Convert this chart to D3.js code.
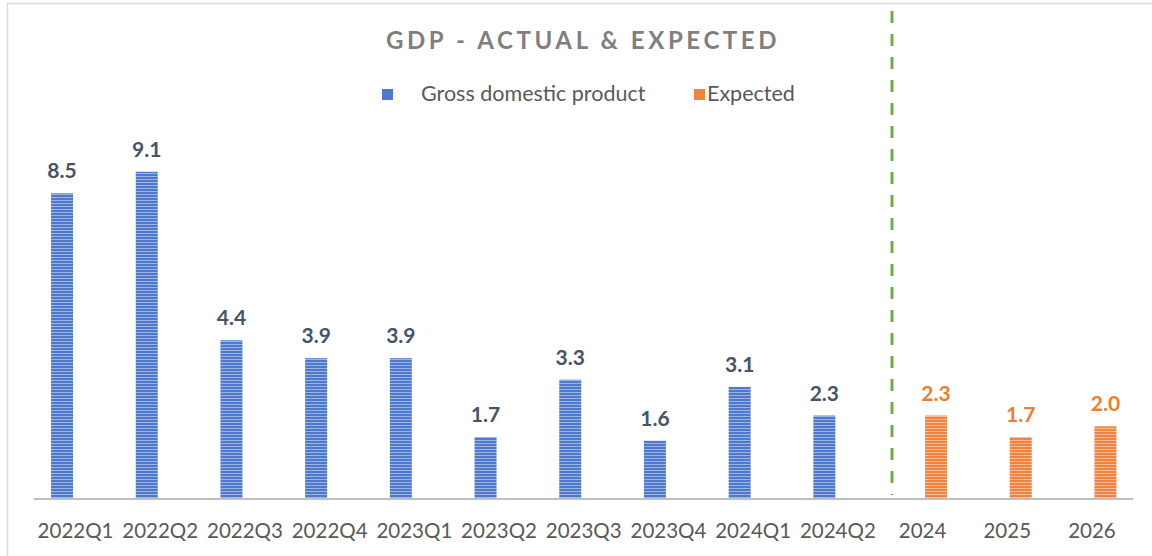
<!DOCTYPE html>
<html>
<head>
  <meta charset="utf-8">
  <title>GDP - Actual & Expected</title>
  <script src="https://d3js.org/d3.v7.min.js"></script>
  <style type="text/css">
    body { margin: 0; background: #fff; }
    text { font-family: Lato, "Open Sans", sans-serif; }
  </style>
</head>
<body>
  <svg width="1152" height="556"></svg>
  <script type="text/javascript">
    // actual quarterly values
    var actualCats = ["2022Q1", "2022Q2", "2022Q3", "2022Q4", "2023Q1", "2023Q2",
      "2023Q3", "2023Q4", "2024Q1", "2024Q2"];
    var actualVals = [8.5, 9.1, 4.4, 3.9, 3.9, 1.7, 3.3, 1.6, 3.1, 2.3];

    // expected yearly values
    var expectedCats = ["2024", "2025", "2026"];
    var expectedVals = [2.3, 1.7, 2.0];

    var titleText = "GDP - ACTUAL & EXPECTED";
    var seriesNames = ["Gross domestic product", "Expected"];

    var orange = "#ed7d31",
      baseY = 498;

    var svg = d3.select("svg");

    // striped fills like the original
    var defs = svg.append("defs");
    function stripes(id, dark, light) {
      var p = defs.append("pattern")
        .attr("id", id)
        .attr("patternUnits", "userSpaceOnUse")
        .attr("width", 6).attr("height", 3);
      p.append("rect").attr("width", 6).attr("height", 3).attr("fill", dark);
      p.append("rect").attr("y", 2).attr("width", 6).attr("height", 1).attr("fill", light);
    }
    stripes("blueStripe", "#4f7acb", "#9cb4e3");
    stripes("orangeStripe", "#ef8441", "#f7bb95");

    // frame
    svg.append("line").attr("x1", 7).attr("x2", 1152).attr("y1", 3.5).attr("y2", 3.5)
      .attr("stroke", "#d9d9d9").attr("stroke-width", 1.5);
    svg.append("line").attr("x1", 7.5).attr("x2", 7.5).attr("y1", 3).attr("y2", 556)
      .attr("stroke", "#d9d9d9").attr("stroke-width", 1.5);

    var allCats = actualCats.concat(expectedCats);

    var y = d3.scaleLinear().domain([0, 10]).range([baseY, baseY - 358.5]);

    var x = d3.scaleBand().domain(allCats).range([33.2, 1134.3]);
    var c = x.bandwidth() / 2;
    var xs = d3.scaleBand().domain(seriesNames).range([c - 27, c + 27])
      .paddingInner(5 / 27).paddingOuter(2.5 / 27);

    // title
    svg.append("text")
      .attr("x", 583).attr("y", 49)
      .attr("text-anchor", "middle")
      .attr("font-size", 24).attr("font-weight", "bold")
      .attr("letter-spacing", 3.6)
      .attr("fill", "#7f7f7f")
      .text(titleText);

    // legend
    var legend = svg.append("g");
    legend.append("rect").attr("x", 382).attr("y", 89).attr("width", 11).attr("height", 11).attr("fill", "#4f7acb");
    legend.append("text").attr("x", 421).attr("y", 101).attr("font-size", 21.5).attr("fill", "#595959").text(seriesNames[0]);
    legend.append("rect").attr("x", 694).attr("y", 89).attr("width", 11).attr("height", 11).attr("fill", "#ef8441");
    legend.append("text").attr("x", 707).attr("y", 101).attr("font-size", 21.5).attr("fill", "#595959").text(seriesNames[1]);

    // baseline
    svg.append("line").attr("x1", 34).attr("x2", 1133).attr("y1", baseY + 1).attr("y2", baseY + 1)
      .attr("stroke", "#bfbfbf").attr("stroke-width", 2);

    function drawBars(cats, vals, series, fill, labelColor) {
      var g = svg.append("g");
      var data = cats.map(function(cat, i) { return { cat: cat, v: vals[i] }; });
      var bx = function(d) { return x(d.cat) + xs(series); };
      g.selectAll("rect").data(data).enter().append("rect")
        .attr("x", bx)
        .attr("y", function(d) { return y(d.v); })
        .attr("width", xs.bandwidth())
        .attr("height", function(d) { return baseY - y(d.v); })
        .attr("fill", fill);
      g.selectAll(".val").data(data).enter().append("text")
        .attr("class", "val")
        .attr("x", function(d) { return bx(d) + xs.bandwidth() / 2; })
        .attr("y", function(d) { return y(d.v) - 15; })
        .attr("text-anchor", "middle")
        .attr("font-size", 21).attr("font-weight", "bold")
        .attr("fill", labelColor)
        .text(function(d) { return d.v.toFixed(1); });
    }

    drawBars(actualCats, actualVals, seriesNames[0], "url(#blueStripe)", "#44546a");
    drawBars(expectedCats, expectedVals, seriesNames[1], "url(#orangeStripe)", orange);

    var axis = svg.append("g")
      .attr("transform", "translate(0," + baseY + ")")
      .call(d3.axisBottom(x).tickSize(0));
    axis.select(".domain").remove();
    axis.selectAll("text")
      .attr("y", 40).attr("dy", null)
      .attr("font-size", 20.5).attr("fill", "#595959")
      .style("font-family", "Lato, 'Open Sans', sans-serif");

    // divider between actual and expected
    svg.append("line").attr("x1", 892).attr("x2", 892).attr("y1", 11).attr("y2", 495)
      .attr("stroke", "#70ad47").attr("stroke-width", 3)
      .attr("stroke-dasharray", "12,11");
  </script>
</body>
</html>
